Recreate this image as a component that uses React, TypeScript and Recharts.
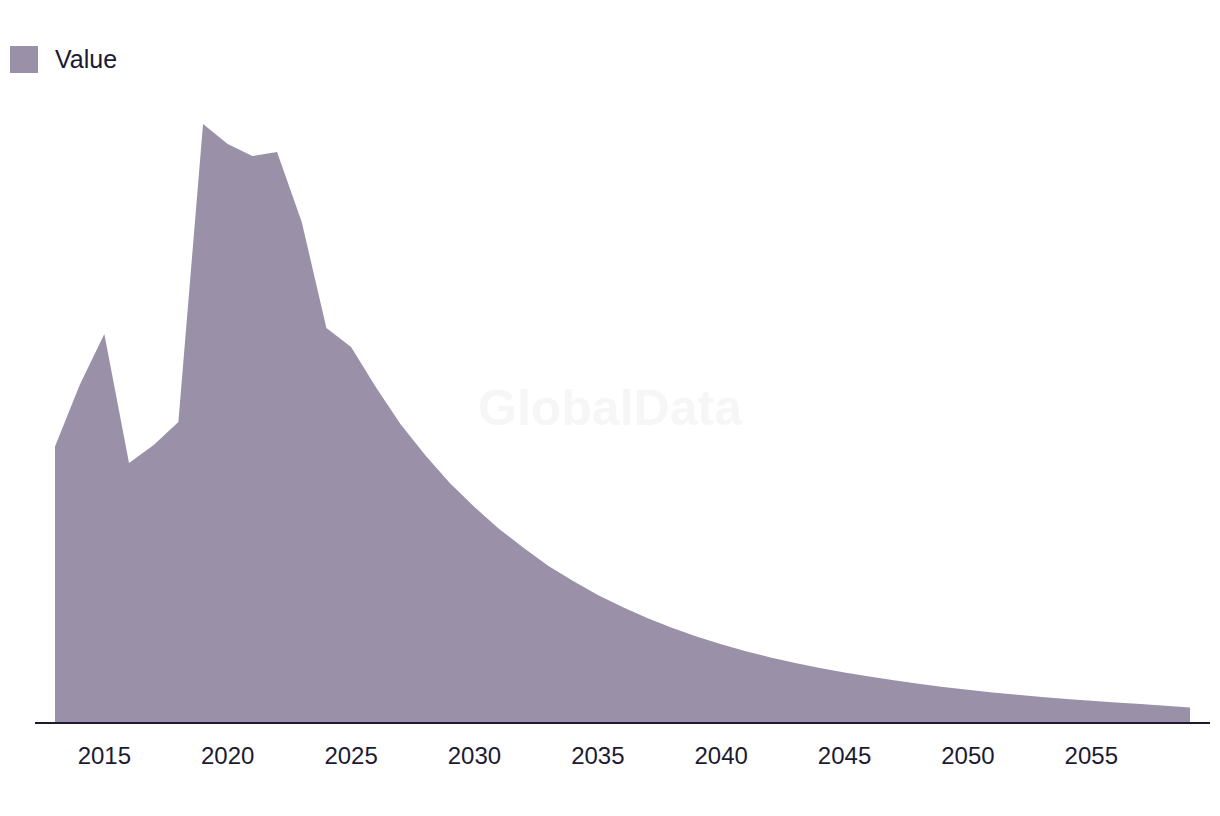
import { Area, AreaChart, XAxis, YAxis } from "recharts";

const years: number[] = [
  2013, 2014, 2015, 2016, 2017, 2018, 2019, 2020, 2021, 2022, 2023, 2024,
  2025, 2026, 2027, 2028, 2029, 2030, 2031, 2032, 2033, 2034, 2035, 2036,
  2037, 2038, 2039, 2040, 2041, 2042, 2043, 2044, 2045, 2046, 2047, 2048,
  2049, 2050, 2051, 2052, 2053, 2054, 2055, 2056, 2057, 2058, 2059,
];

const values: number[] = [
  276.5, 338, 389, 260, 278, 301, 599, 579, 567, 571, 501, 395,
  376, 336, 299, 268, 240, 216, 194, 175, 157, 142, 128, 116,
  105, 95.2, 86.5, 78.7, 71.7, 65.6, 60, 55, 50.5, 46.5, 42.8, 39.3,
  36.1, 33.2, 30.6, 28.2, 26, 24, 22.2, 20.5, 18.9, 17.2, 15.6,
];

const tickYears: number[] = [2015, 2020, 2025, 2030, 2035, 2040, 2045, 2050, 2055];

const seriesName = "Value";
const fillColor = "#9a91a9";
const inkColor = "#1c1a33";
const fontFamily = "'Liberation Sans', Arial, sans-serif";

const data = years.map((year, i) => ({ year, value: values[i] }));

export default function App() {
  return (
    <div style={{ position: "absolute", left: 0, top: 0, width: 1220, height: 816, background: "#fff" }}>
      {/* watermark */}
      <span
        style={{
          position: "absolute",
          left: 478,
          top: 378,
          fontFamily,
          fontWeight: 700,
          fontSize: 50,
          color: "#f6f6f6",
          lineHeight: "60px",
          pointerEvents: "none",
        }}
      >
        GlobalData
      </span>
      <div
        style={{
          position: "absolute",
          left: 10,
          top: 46,
          display: "flex",
          alignItems: "center",
          fontFamily,
          fontSize: 25,
          color: inkColor,
        }}
      >
        <span style={{ display: "inline-block", width: 28, height: 27, background: fillColor, marginRight: 17 }} />
        <span style={{ lineHeight: "25px" }}>{seriesName}</span>
      </div>
      <AreaChart
        width={1220}
        height={816}
        data={data}
        margin={{ top: 123, right: 10, left: 35, bottom: 33 }}
        style={{ position: "absolute", left: 0, top: 0 }}
      >
        <XAxis
          dataKey="year"
          type="number"
          domain={[2013, 2059]}
          ticks={tickYears}
          padding={{ left: 20, right: 20 }}
          height={60}
          axisLine={{ stroke: inkColor, strokeWidth: 2 }}
          tickLine={false}
          tickMargin={18}
          tick={{ fill: inkColor, fontSize: 24, fontFamily }}
          interval={0}
        />
        <YAxis hide domain={[0, 600]} width={0} />
        <Area
          type="linear"
          dataKey="value"
          name={seriesName}
          fill={fillColor}
          fillOpacity={1}
          stroke="none"
          isAnimationActive={false}
        />
      </AreaChart>
    </div>
  );
}
